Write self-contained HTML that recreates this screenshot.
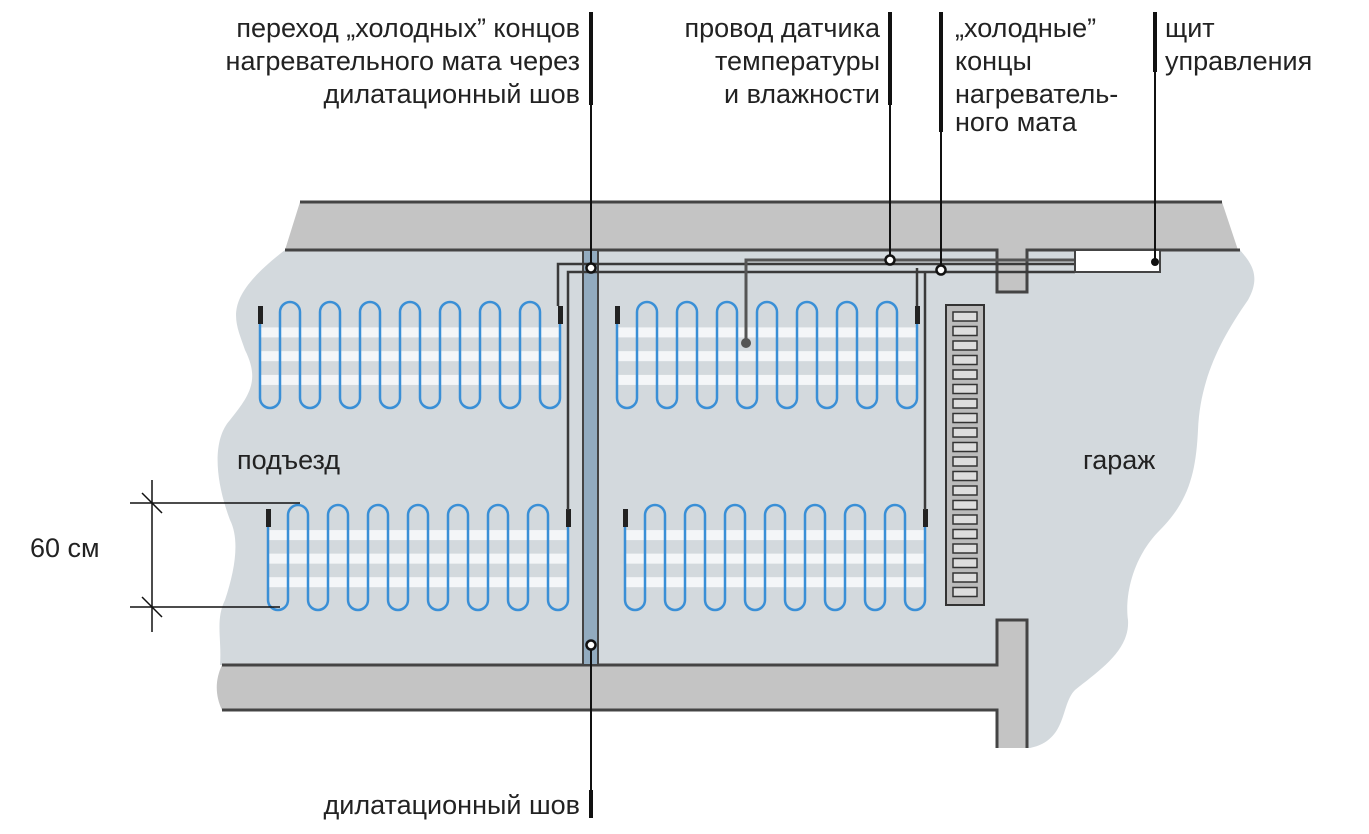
<!DOCTYPE html>
<html><head><meta charset="utf-8"><style>
html,body{margin:0;padding:0;background:#fff;width:1369px;height:834px;overflow:hidden}
svg text{font-family:"Liberation Sans",sans-serif;font-size:27px;fill:#222}
</style></head><body>
<svg id="s" width="1369" height="834" viewBox="0 0 1369 834" xmlns="http://www.w3.org/2000/svg">
<path d="M285 250 L1240 250 C1250 262 1262 275 1248 300 C1220 340 1200 380 1198 430 C1196 470 1190 500 1160 530 C1130 560 1125 600 1128 620 C1130 650 1100 670 1075 690 C1060 705 1068 740 1030 748 L997 748 L997 665 L220 665 C222 640 215 620 225 600 C235 570 240 540 230 520 C215 480 212 440 230 420 C250 395 260 380 245 350 C235 320 220 300 285 250 Z" fill="#d3d9dd"/>
<path d="M300 202 L1222 202 L1238 250 L1027 250 L1027 292 L997 292 L997 250 L285 250 Z" fill="#c4c4c4"/>
<path d="M300 202 L1222 202" stroke="#444" stroke-width="3"/>
<path d="M285 250 L997 250 L997 292 L1027 292 L1027 250 L1240 250" stroke="#444" stroke-width="3" fill="none"/>
<path d="M222 665 L997 665 L997 620 L1027 620 L1027 748 L997 748 L997 710 L222 710 C215 695 215 680 222 665Z" fill="#c4c4c4"/>
<path d="M222 665 L997 665 L997 620 L1027 620 L1027 748 M997 748 L997 710 L222 710" stroke="#444" stroke-width="3" fill="none"/>
<rect x="583" y="250" width="15" height="415" fill="#92abbf" stroke="#444" stroke-width="2"/>
<g id="mats"></g>
<g stroke="#3a3a3a" stroke-width="2.5" fill="none">
<path d="M558 306 L558 264 L1075 264"/>
<path d="M568 510 L568 272 L1075 272"/>
<path d="M917 306 L917 268"/>
<path d="M925 510 L925 272"/>
</g>
<path d="M746 343 L746 260 L1075 260" stroke="#555" stroke-width="3" fill="none"/>
<circle cx="746" cy="343" r="5" fill="#555"/>
<rect x="1075" y="250" width="85" height="22" fill="#fff" stroke="#444" stroke-width="2"/>
<rect x="946" y="305" width="38" height="300" fill="#bbb" stroke="#333" stroke-width="2"/>
<g id="grate"></g>
<g stroke="#111" stroke-width="2">
<line x1="591" y1="12" x2="591" y2="268"/><line x1="591" y1="645" x2="591" y2="815"/>
<line x1="890" y1="12" x2="890" y2="260"/><line x1="941" y1="12" x2="941" y2="270"/>
<line x1="1155" y1="12" x2="1155" y2="262"/>
</g>
<g stroke="#111" stroke-width="4">
<line x1="591" y1="12" x2="591" y2="105"/><line x1="591" y1="790" x2="591" y2="818"/>
<line x1="890" y1="12" x2="890" y2="105"/><line x1="941" y1="12" x2="941" y2="132"/>
<line x1="1155" y1="12" x2="1155" y2="72"/>
</g>
<g fill="#fff" stroke="#111" stroke-width="2.5">
<circle cx="591" cy="268" r="4.5"/><circle cx="591" cy="645" r="4.5"/>
<circle cx="890" cy="260" r="4.5"/><circle cx="941" cy="270" r="4.5"/>
</g>
<circle cx="1155" cy="262" r="4" fill="#111"/>
<g stroke="#111" stroke-width="1.5">
<line x1="152" y1="480" x2="152" y2="632"/>
<line x1="130" y1="503" x2="300" y2="503"/><line x1="130" y1="607" x2="280" y2="607"/>
<line x1="142" y1="493" x2="162" y2="513"/><line x1="142" y1="597" x2="162" y2="617"/>
</g>
<text x="30" y="557">60 см</text>
<text x="237" y="469">подъезд</text>
<text x="1083" y="469">гараж</text>
<g text-anchor="end">
<text x="580" y="37">переход „холодных” концов</text>
<text x="580" y="70">нагревательного мата через</text>
<text x="580" y="103">дилатационный шов</text>
<text x="880" y="37">провод датчика</text>
<text x="880" y="70">температуры</text>
<text x="880" y="103">и влажности</text>
<text x="580" y="814">дилатационный шов</text>
</g>
<text x="955" y="37">„холодные”</text>
<text x="955" y="70">концы</text>
<text x="955" y="103">нагреватель-</text>
<text x="955" y="131">ного мата</text>
<text x="1165" y="37">щит</text>
<text x="1165" y="70">управления</text>
</svg>
<script>
var NS="http://www.w3.org/2000/svg",m=document.getElementById("mats");
function el(t,a,p){var e=document.createElementNS(NS,t);for(var k in a)e.setAttribute(k,a[k]);p.appendChild(e);return e;}
function mat(x0,y0,y1){
 [0.3,0.52,0.74].forEach(function(f){el("rect",{x:x0,y:y0+(y1-y0)*f-5,width:300,height:10,fill:"#f4f6f8"},m);});
 var top=y0+2,bot=y1,r=10,d="M"+x0+" "+(top+20);
 for(var i=0;i<15;i++){var x=x0+i*20;
  if(i%2==0){d+=" L"+x+" "+(bot-r)+" A"+r+" "+r+" 0 0 0 "+(x+20)+" "+(bot-r);}
  else{d+=" L"+x+" "+(top+r)+" A"+r+" "+r+" 0 0 1 "+(x+20)+" "+(top+r);}}
 d+=" L"+(x0+300)+" "+(top+20);
 el("path",{d:d,fill:"none",stroke:"#3a8fd6","stroke-width":2.5},m);
 el("rect",{x:x0-2,y:top+4,width:5,height:18,fill:"#222"},m);
 el("rect",{x:x0+298,y:top+4,width:5,height:18,fill:"#222"},m);
}
mat(260,300,408);mat(617,300,408);mat(268,503,610);mat(625,503,610);
var g=document.getElementById("grate");
for(var y=312;y<600;y+=14.5){el("rect",{x:953,y:y,width:24,height:9,fill:"#ddd",stroke:"#333","stroke-width":1.5},g);}
</script>
</body></html>
